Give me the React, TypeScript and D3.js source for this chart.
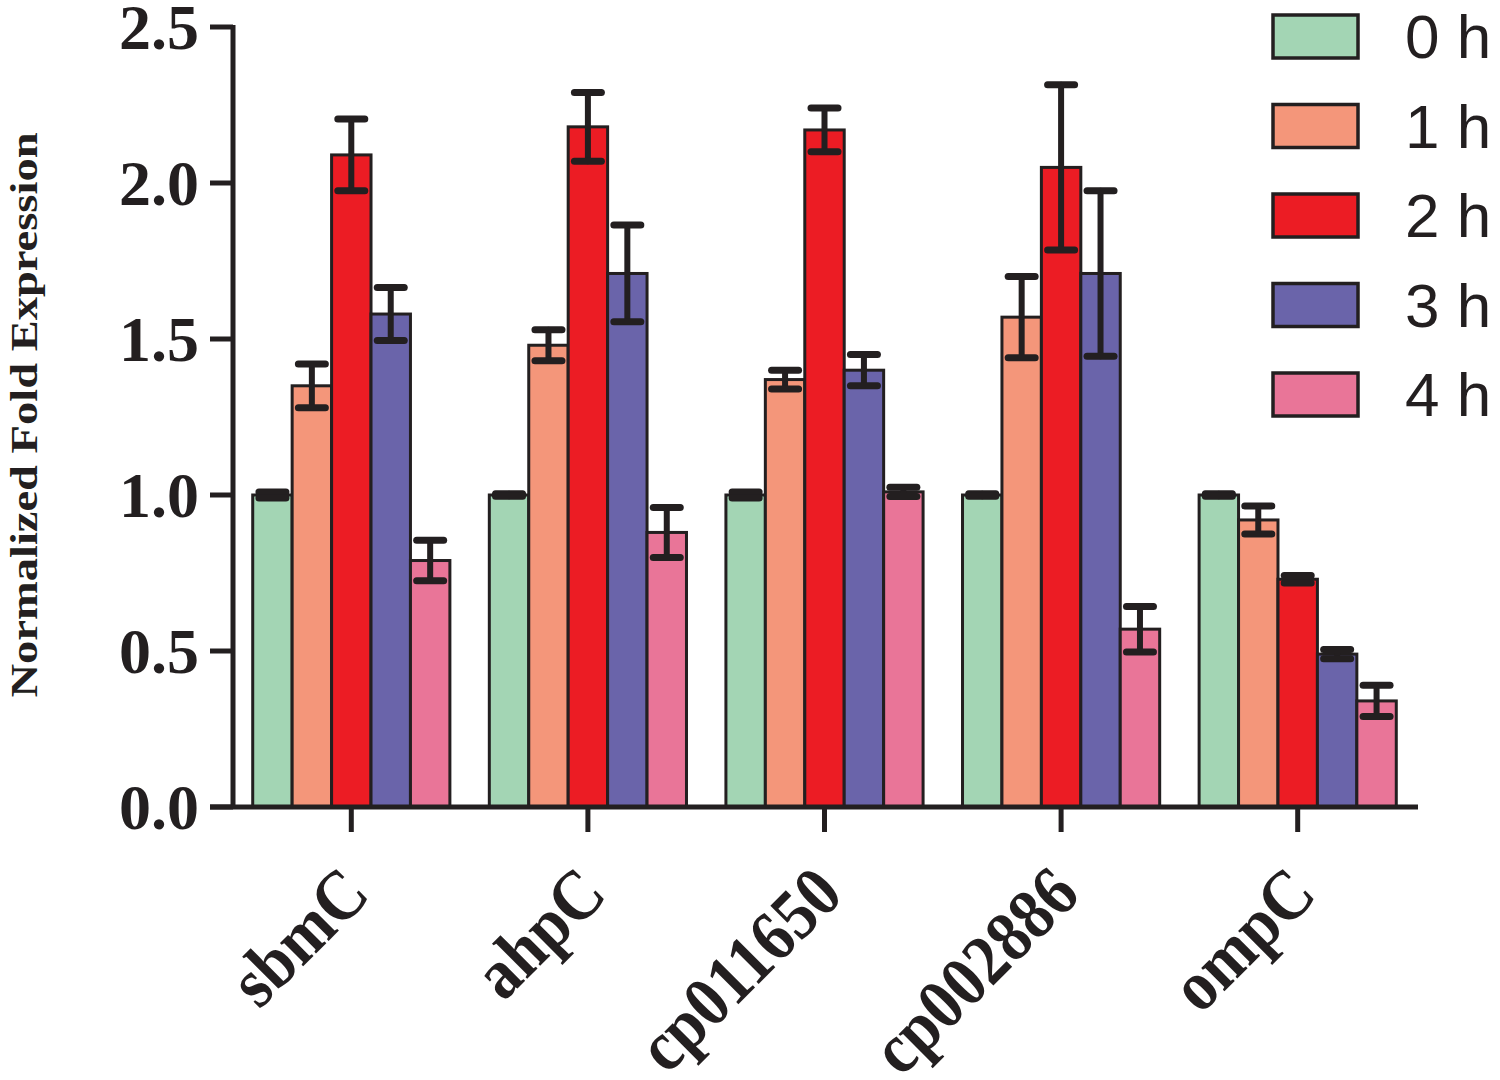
import React from 'react';
import * as d3 from 'd3';

const genes = ['sbmC', 'ahpC', 'cp011650', 'cp002886', 'ompC'];
const times = ['0 h', '1 h', '2 h', '3 h', '4 h'];
const colors = ['#a3d5b4', '#f4967a', '#ec1c24', '#6a64aa', '#e97598'];

const mean0h = [1.0, 1.0, 1.0, 1.0, 1.0];
const mean1h = [1.35, 1.48, 1.37, 1.57, 0.92];
const mean2h = [2.09, 2.18, 2.17, 2.05, 0.73];
const mean3h = [1.58, 1.71, 1.4, 1.71, 0.49];
const mean4h = [0.79, 0.88, 1.01, 0.57, 0.34];

const err0h = [0.01, 0.004, 0.01, 0.004, 0.004];
const err1h = [0.07, 0.05, 0.03, 0.13, 0.045];
const err2h = [0.115, 0.11, 0.07, 0.265, 0.012];
const err3h = [0.085, 0.155, 0.05, 0.265, 0.015];
const err4h = [0.065, 0.08, 0.015, 0.073, 0.05];

const yTicks = [0, 0.5, 1.0, 1.5, 2.0, 2.5];

const means = [mean0h, mean1h, mean2h, mean3h, mean4h];
const errs = [err0h, err1h, err2h, err3h, err4h];

const ink = '#231f20';

const App: React.FC = () => {
  const left = 233;
  const right = 1416;
  const top = 27;
  const bottom = 807;

  const x0 = d3.scaleBand<string>().domain(genes).range([left, right]);
  const bw = x0.bandwidth();
  const x1 = d3.scaleBand<string>().domain(times).range([bw / 12, (bw * 11) / 12]);
  const y = d3.scaleLinear().domain([0, 2.5]).range([bottom, top]);

  const capW = 27;

  return (
    <svg width={1500} height={1080} style={{ position: 'absolute', left: 0, top: 0, background: '#fff' }}>
      {/* bars */}
      {genes.map((g, gi) => (
        <g key={g} transform={`translate(${x0(g)},0)`}>
          {times.map((t, ti) => {
            const v = means[ti][gi];
            return (
              <rect
                key={t}
                x={x1(t)}
                y={y(v)}
                width={x1.bandwidth()}
                height={y(0) - y(v)}
                fill={colors[ti]}
                stroke={ink}
                strokeWidth={3}
              />
            );
          })}
        </g>
      ))}

      {/* error bars */}
      {genes.map((g, gi) => (
        <g key={g + '-err'} transform={`translate(${x0(g)},0)`}>
          {times.map((t, ti) => {
            const v = means[ti][gi];
            const e = errs[ti][gi];
            const cx = (x1(t) as number) + x1.bandwidth() / 2;
            return (
              <g key={t} stroke={ink} strokeLinecap="round">
                <line x1={cx} x2={cx} y1={y(v + e)} y2={y(v - e)} strokeWidth={6} />
                <line x1={cx - capW / 2} x2={cx + capW / 2} y1={y(v + e)} y2={y(v + e)} strokeWidth={7} />
                <line x1={cx - capW / 2} x2={cx + capW / 2} y1={y(v - e)} y2={y(v - e)} strokeWidth={7} />
              </g>
            );
          })}
        </g>
      ))}

      {/* y axis */}
      <line x1={left} x2={left} y1={top - 2} y2={bottom} stroke={ink} strokeWidth={5} />
      {yTicks.map((t) => (
        <g key={t}>
          <line x1={left - 23} x2={left} y1={y(t)} y2={y(t)} stroke={ink} strokeWidth={5} />
          <text
            x={left - 34}
            y={y(t)}
            dy="0.34em"
            textAnchor="end"
            fontFamily="'Liberation Serif', 'Times New Roman', serif"
            fontWeight="bold"
            fontSize={64}
            fill={ink}
          >
            {t.toFixed(1)}
          </text>
        </g>
      ))}

      {/* x axis */}
      <line x1={left - 23} x2={right + 2} y1={bottom} y2={bottom} stroke={ink} strokeWidth={5} />
      {genes.map((g) => {
        const cx = (x0(g) as number) + bw / 2;
        return (
          <g key={g + '-tick'}>
            <line x1={cx} x2={cx} y1={bottom} y2={bottom + 25} stroke={ink} strokeWidth={5} />
            <text
              transform={`translate(${cx + 21},${bottom + 90}) rotate(-45) scale(1,1.12)`}
              textAnchor="end"
              fontFamily="'Liberation Serif', 'Times New Roman', serif"
              fontWeight="bold"
              fontSize={64}
              fill={ink}
            >
              {g}
            </text>
          </g>
        );
      })}

      {/* y label */}
      <text
        transform={`translate(37,415) rotate(-90)`}
        textAnchor="middle"
        fontFamily="'Liberation Serif', 'Times New Roman', serif"
        fontWeight="bold"
        fontSize={38}
        textLength={565}
        lengthAdjust="spacingAndGlyphs"
        fill={ink}
      >
        Normalized Fold Expression
      </text>

      {/* legend */}
      {times.map((t, i) => (
        <g key={t + '-leg'} transform={`translate(1273,${15 + i * 89.5})`}>
          <rect x={0} y={0} width={85} height={43} fill={colors[i]} stroke={ink} strokeWidth={3.5} />
          <text
            x={132}
            y={43}
            fontFamily="'Liberation Sans', Arial, sans-serif"
            fontSize={62}
            fill={ink}
          >
            {t}
          </text>
        </g>
      ))}
    </svg>
  );
};

export default App;
